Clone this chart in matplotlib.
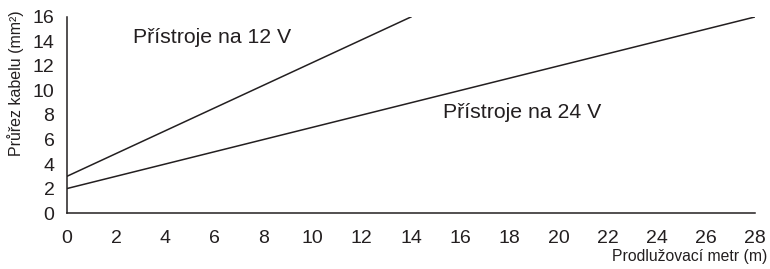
import matplotlib.pyplot as plt

# line endpoints
length_12v = [0, 14]
section_12v = [3, 16]
length_24v = [0, 28]
section_24v = [2, 16]

x_ticks = list(range(0, 29, 2))
y_ticks = list(range(0, 17, 2))

plt.rcParams['font.family'] = ['Liberation Sans', 'DejaVu Sans']

fig = plt.figure(figsize=(7.7, 2.69), dpi=100)
ax = fig.add_axes([0.087, 0.208, 0.8935, 0.729])

ax.plot(length_12v, section_12v, color='#231f20', lw=1.1)
ax.plot(length_24v, section_24v, color='#231f20', lw=1.1)

ax.text(2.69, 14.3, 'Přístroje na 12 V', fontsize=15.3, color='#231f20', va='center')
ax.text(15.3, 8.2, 'Přístroje na 24 V', fontsize=15.3, color='#231f20', va='center')

ax.set_xlim(0, 28)
ax.set_ylim(0, 16)
ax.set_xticks(x_ticks)
ax.set_yticks(y_ticks)
ax.tick_params(length=0, labelsize=14, colors='#231f20')
ax.tick_params(axis='x', pad=12)
ax.tick_params(axis='y', pad=9)

for s in ['top', 'right']:
    ax.spines[s].set_visible(False)
for s in ['left', 'bottom']:
    ax.spines[s].set_color('#231f20')
    ax.spines[s].set_linewidth(1.1)

fig.text(0.997, 0.018, 'Prodlužovací metr (m)', fontsize=11.3, ha='right', va='bottom', color='#231f20')
fig.text(0.02, 0.69, 'Průřez kabelu (mm²)', fontsize=11.5, rotation=90, ha='center', va='center', color='#231f20')

fig.savefig('out.png', dpi=100)
